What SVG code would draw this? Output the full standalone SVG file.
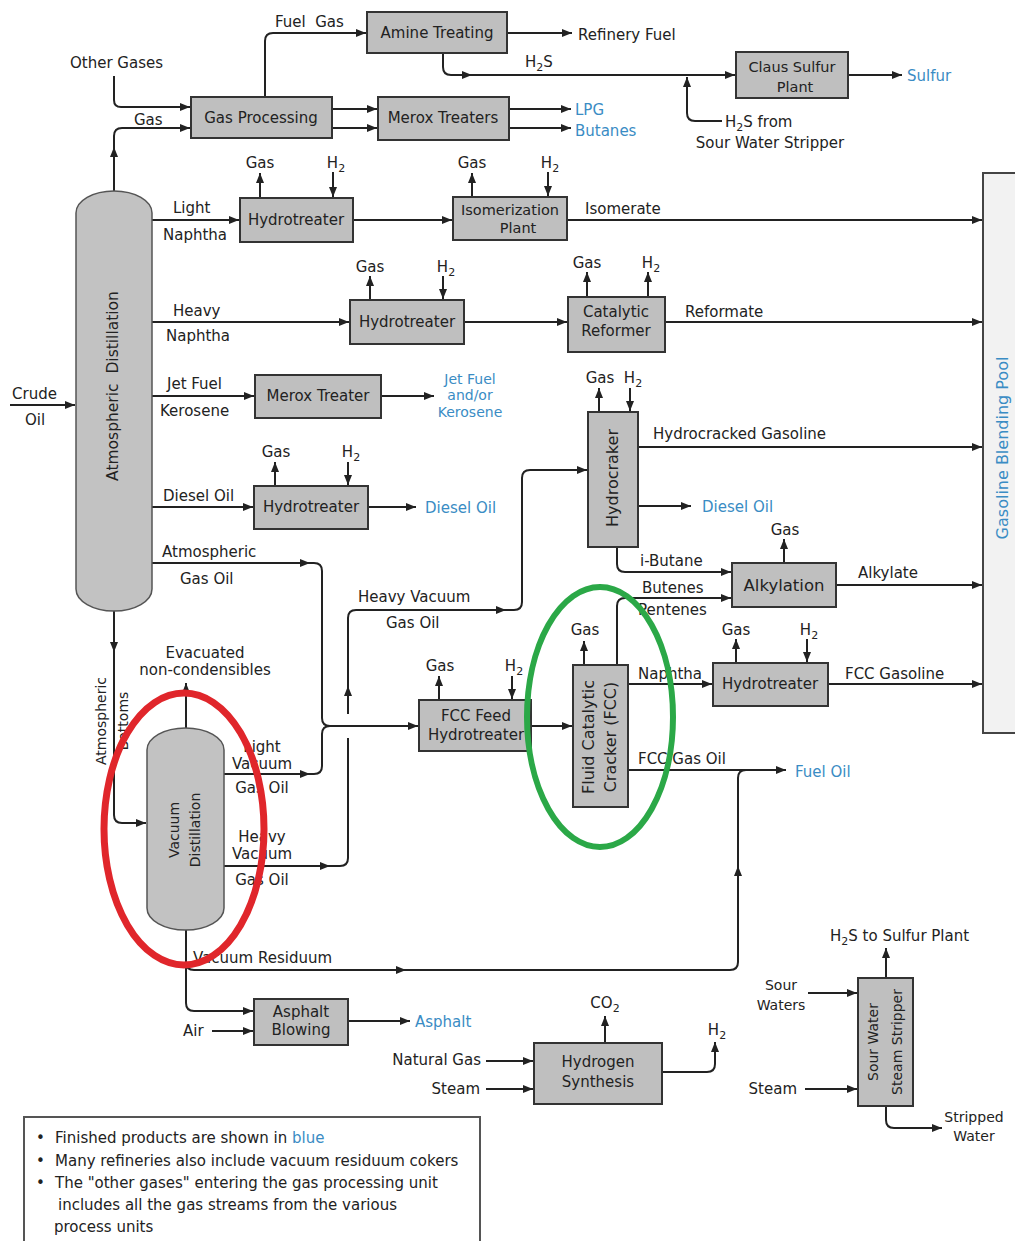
<svg xmlns="http://www.w3.org/2000/svg" width="1015" height="1241" viewBox="0 0 1015 1241">
<style>
.box{fill:#bfbfbf;stroke:#333;stroke-width:2}
.col{fill:#c2c2c2;stroke:#555;stroke-width:1.5}
.ln{fill:none;stroke:#222;stroke-width:2}
.a{marker-end:url(#ah)}
text{font-family:"DejaVu Sans",Verdana,sans-serif;font-size:15px;fill:#222}
.c{text-anchor:middle}
.e{text-anchor:end}
.b{fill:#3a8cc4}
.s{font-size:14px}
.sub{font-size:11px}
</style>
<defs>
<marker id="ah" viewBox="0 0 10 8" refX="10" refY="4" markerWidth="10" markerHeight="8" markerUnits="userSpaceOnUse" orient="auto">
<path d="M0,0 L10,4 L0,8 z" fill="#222"/>
</marker>
</defs>
<rect width="1015" height="1241" fill="#fff"/>

<g id="connectors">
<path class="ln a" d="M10,405 H75"/>
<path class="ln a" d="M114,76 V100 Q114,107 121,107 H190"/>
<path class="ln a" d="M114,191 V147"/>
<path class="ln a" d="M114,150 V136 Q114,128 122,128 H190"/>
<path class="ln a" d="M265,97 V41 Q265,33 273,33 H366"/>
<path class="ln a" d="M507,33 H572"/>
<path class="ln a" d="M443,53 V67 Q443,75 451,75 H472"/>
<path class="ln a" d="M470,75 H735"/>
<path class="ln a" d="M722,121 H695 Q687,121 687,113 V77"/>
<path class="ln a" d="M848,75 H902"/>
<path class="ln a" d="M332,109 H377"/>
<path class="ln a" d="M332,128 H377"/>
<path class="ln a" d="M509,109 H571"/>
<path class="ln a" d="M509,128 H571"/>
<path class="ln a" d="M152,220 H239"/>
<path class="ln a" d="M260,198 V173"/>
<path class="ln a" d="M333,172 V197"/>
<path class="ln a" d="M353,220 H452"/>
<path class="ln a" d="M472,197 V173"/>
<path class="ln a" d="M548,172 V196"/>
<path class="ln a" d="M567,220 H982"/>
<path class="ln a" d="M152,322 H349"/>
<path class="ln a" d="M370,300 V276"/>
<path class="ln a" d="M443,276 V299"/>
<path class="ln a" d="M464,322 H567"/>
<path class="ln a" d="M587,297 V272"/>
<path class="ln a" d="M648,297 V272"/>
<path class="ln a" d="M665,322 H982"/>
<path class="ln a" d="M152,396 H254"/>
<path class="ln a" d="M381,396 H434"/>
<path class="ln a" d="M152,507 H253"/>
<path class="ln a" d="M275,486 V462"/>
<path class="ln a" d="M348,462 V485"/>
<path class="ln a" d="M368,507 H416"/>
<path class="ln a" d="M599,412 V388"/>
<path class="ln a" d="M630,388 V411"/>
<path class="ln a" d="M638,447 H982"/>
<path class="ln a" d="M638,506 H691"/>
<path class="ln a" d="M617,547 V564 Q617,572 625,572 H731"/>
<path class="ln a" d="M617,665 V606 Q617,598 625,598 H731"/>
<path class="ln a" d="M784,563 V539"/>
<path class="ln a" d="M836,585 H982"/>
<path class="ln a" d="M152,563 H310"/>
<path class="ln a" d="M308,563 H314 Q322,563 322,571 V718 Q322,726 330,726 H418"/>
<path class="ln a" d="M224,774 H310"/>
<path class="ln" d="M308,774 H314 Q322,774 322,766 V734 Q322,726 330,726"/>
<path class="ln a" d="M224,866 H330"/>
<path class="ln" d="M328,866 H340 Q348,866 348,858 V738"/>
<path class="ln a" d="M348,714 V686"/>
<path class="ln a" d="M348,690 V618 Q348,610 356,610 H506"/>
<path class="ln a" d="M504,610 H514 Q522,610 522,602 V478 Q522,470 530,470 H587"/>
<path class="ln a" d="M439,700 V676"/>
<path class="ln a" d="M512,676 V699"/>
<path class="ln a" d="M531,726 H572"/>
<path class="ln a" d="M584,665 V641"/>
<path class="ln a" d="M628,684 H712"/>
<path class="ln a" d="M736,663 V639"/>
<path class="ln a" d="M807,639 V662"/>
<path class="ln a" d="M828,684 H982"/>
<path class="ln a" d="M628,770 H786"/>
<path class="ln a" d="M114,611 V652"/>
<path class="ln a" d="M114,648 V815 Q114,823 122,823 H146"/>
<path class="ln a" d="M186,728 V683"/>
<path class="ln a" d="M186,930 V1003 Q186,1011 194,1011 H253"/>
<path class="ln a" d="M186,962 Q186,970 194,970 H406"/>
<path class="ln a" d="M403,970 H730 Q738,970 738,962 V866"/>
<path class="ln" d="M738,870 V778 Q738,770 746,770"/>
<path class="ln a" d="M212,1031 H253"/>
<path class="ln a" d="M348,1021 H410"/>
<path class="ln a" d="M486,1061 H533"/>
<path class="ln a" d="M486,1089 H533"/>
<path class="ln a" d="M605,1043 V1016"/>
<path class="ln a" d="M662,1072 H707 Q715,1072 715,1064 V1042"/>
<path class="ln a" d="M808,993 H857"/>
<path class="ln a" d="M805,1089 H857"/>
<path class="ln a" d="M886,978 V948"/>
<path class="ln a" d="M886,1106 V1120 Q886,1128 894,1128 H942"/>
</g>

<g id="atmospheric-distillation">
<path class="col" d="M76,213 A38,22 0 0 1 152,213 V589 A38,22 0 0 1 76,589 Z"/>
<text class="c" transform="translate(113,386) rotate(-90)" y="5" style="font-size:15.5px">Atmospheric&#160; Distillation</text>
</g>
<g id="vacuum-distillation">
<path class="col" d="M147,750 A38.5,22 0 0 1 224,750 V908 A38.5,22 0 0 1 147,908 Z"/>
<text class="c s" transform="translate(174,830) rotate(-90)" y="5">Vacuum</text>
<text class="c s" transform="translate(195,830) rotate(-90)" y="5">Distillation</text>
</g>
<g id="gas-processing"><rect class="box" x="191" y="97" width="141" height="41"/><text class="c" x="261" y="123">Gas Processing</text></g>
<g id="amine-treating"><rect class="box" x="367" y="12" width="140" height="41"/><text class="c" x="437" y="38">Amine Treating</text></g>
<g id="merox-treaters"><rect class="box" x="378" y="97" width="131" height="43"/><text class="c" x="443" y="123">Merox Treaters</text></g>
<g id="claus-sulfur-plant"><rect class="box" x="736" y="52" width="112" height="46"/><text class="c" x="792" y="72" style="font-size:14.5px">Claus Sulfur</text><text class="c" x="795" y="92" style="font-size:14.5px">Plant</text></g>
<g id="hydrotreater-1"><rect class="box" x="240" y="198" width="113" height="44"/><text class="c" x="296" y="225">Hydrotreater</text></g>
<g id="isomerization-plant"><rect class="box" x="453" y="197" width="114" height="43"/><text class="c" x="510" y="215" style="font-size:14.5px">Isomerization</text><text class="c" x="518" y="233" style="font-size:14.5px">Plant</text></g>
<g id="hydrotreater-2"><rect class="box" x="350" y="300" width="114" height="44"/><text class="c" x="407" y="327">Hydrotreater</text></g>
<g id="catalytic-reformer"><rect class="box" x="568" y="297" width="97" height="55"/><text class="c" x="616" y="317">Catalytic</text><text class="c" x="616" y="336">Reformer</text></g>
<g id="merox-treater"><rect class="box" x="255" y="375" width="126" height="43"/><text class="c" x="318" y="401">Merox Treater</text></g>
<g id="hydrotreater-3"><rect class="box" x="254" y="486" width="114" height="43"/><text class="c" x="311" y="512">Hydrotreater</text></g>
<g id="hydrocracker"><rect class="box" x="588" y="412" width="50" height="135"/><text class="c" transform="translate(613,478) rotate(-90)" y="5" style="font-size:16px">Hydrocraker</text></g>
<g id="alkylation"><rect class="box" x="732" y="563" width="104" height="44"/><text class="c" x="784" y="591" style="font-size:16.5px">Alkylation</text></g>
<g id="fcc-feed-hydrotreater"><rect class="box" x="419" y="700" width="112" height="51"/><text class="c" x="476" y="721">FCC Feed</text><text class="c" x="476" y="740">Hydrotreater</text></g>
<g id="fcc"><rect class="box" x="573" y="665" width="55" height="142"/><text class="c" transform="translate(589,737) rotate(-90)" y="5" style="font-size:16px">Fluid Catalytic</text><text class="c" transform="translate(611,737) rotate(-90)" y="5" style="font-size:16px">Cracker (FCC)</text></g>
<g id="hydrotreater-4"><rect class="box" x="713" y="663" width="115" height="43"/><text class="c" x="770" y="689">Hydrotreater</text></g>
<g id="asphalt-blowing"><rect class="box" x="254" y="999" width="94" height="46"/><text class="c" x="301" y="1017">Asphalt</text><text class="c" x="301" y="1035">Blowing</text></g>
<g id="hydrogen-synthesis"><rect class="box" x="534" y="1043" width="128" height="61"/><text class="c" x="598" y="1067">Hydrogen</text><text class="c" x="598" y="1087">Synthesis</text></g>
<g id="sour-water-stripper"><rect class="box" x="858" y="978" width="55" height="128"/><text class="c s" transform="translate(873,1042) rotate(-90)" y="5">Sour Water</text><text class="c s" transform="translate(897,1042) rotate(-90)" y="5">Steam Stripper</text></g>
<g id="gasoline-blending-pool"><rect x="983" y="173" width="40" height="560" fill="#f2f2f2" stroke="#444" stroke-width="2"/><text class="c b" transform="translate(1003,448) rotate(-90)" y="5" style="font-size:16px">Gasoline Blending Pool</text></g>

<g id="labels">
<text x="275" y="27">Fuel&#160; Gas</text>
<text x="578" y="40">Refinery Fuel</text>
<text x="70" y="68">Other Gases</text>
<text x="134" y="125">Gas</text>
<text x="525" y="67">H<tspan class="sub" dy="4">2</tspan><tspan dy="-4">S</tspan></text>
<text class="b" x="575" y="115">LPG</text>
<text class="b" x="575" y="136">Butanes</text>
<text class="b" x="907" y="81">Sulfur</text>
<text x="725" y="127">H<tspan class="sub" dy="4">2</tspan><tspan dy="-4">S from</tspan></text>
<text class="c" x="770" y="148">Sour Water Stripper</text>
<text class="c" x="260" y="168">Gas</text>
<text class="c" x="336" y="168">H<tspan class="sub" dy="4">2</tspan></text>
<text class="c" x="472" y="168">Gas</text>
<text class="c" x="550" y="168">H<tspan class="sub" dy="4">2</tspan></text>
<text x="173" y="213">Light</text>
<text x="163" y="240">Naphtha</text>
<text x="585" y="214">Isomerate</text>
<text class="c" x="370" y="272">Gas</text>
<text class="c" x="446" y="272">H<tspan class="sub" dy="4">2</tspan></text>
<text class="c" x="587" y="268">Gas</text>
<text class="c" x="651" y="268">H<tspan class="sub" dy="4">2</tspan></text>
<text x="173" y="316">Heavy</text>
<text x="166" y="341">Naphtha</text>
<text x="685" y="317">Reformate</text>
<text x="12" y="399">Crude</text>
<text x="25" y="425">Oil</text>
<text x="167" y="389">Jet Fuel</text>
<text x="160" y="416">Kerosene</text>
<text class="c b s" x="470" y="384">Jet Fuel</text>
<text class="c b s" x="470" y="400">and/or</text>
<text class="c b s" x="470" y="417">Kerosene</text>
<text class="c" x="600" y="383">Gas</text>
<text class="c" x="633" y="383">H<tspan class="sub" dy="4">2</tspan></text>
<text x="653" y="439">Hydrocracked Gasoline</text>
<text class="c" x="276" y="457">Gas</text>
<text class="c" x="351" y="457">H<tspan class="sub" dy="4">2</tspan></text>
<text x="163" y="501">Diesel Oil</text>
<text class="b" x="425" y="513">Diesel Oil</text>
<text class="b" x="702" y="512">Diesel Oil</text>
<text class="c" x="785" y="535">Gas</text>
<text x="162" y="557">Atmospheric</text>
<text x="180" y="584">Gas Oil</text>
<text x="640" y="566">i-Butane</text>
<text x="858" y="578">Alkylate</text>
<text x="642" y="593">Butenes</text>
<text x="638" y="615">Pentenes</text>
<text x="358" y="602">Heavy Vacuum</text>
<text x="386" y="628">Gas Oil</text>
<text class="c" x="205" y="658">Evacuated</text>
<text class="c" x="205" y="675">non-condensibles</text>
<text class="c" x="440" y="671">Gas</text>
<text class="c" x="514" y="671">H<tspan class="sub" dy="4">2</tspan></text>
<text class="c" x="585" y="635">Gas</text>
<text class="c" x="736" y="635">Gas</text>
<text class="c" x="809" y="635">H<tspan class="sub" dy="4">2</tspan></text>
<text x="638" y="679">Naphtha</text>
<text x="845" y="679">FCC Gasoline</text>
<text x="638" y="764">FCC Gas Oil</text>
<text class="b" x="795" y="777">Fuel Oil</text>
<text class="c" transform="translate(101,721) rotate(-90)" y="5" style="font-size:14px">Atmospheric</text>
<text class="c" transform="translate(123,721) rotate(-90)" y="5" style="font-size:14px">Bottoms</text>
<text class="c" x="262" y="752">Light</text>
<text class="c" x="262" y="769">Vacuum</text>
<text class="c" x="262" y="793">Gas Oil</text>
<text class="c" x="262" y="842">Heavy</text>
<text class="c" x="262" y="859">Vacuum</text>
<text class="c" x="262" y="885">Gas Oil</text>
<text x="193" y="963">Vacuum Residuum</text>
<text x="183" y="1036">Air</text>
<text class="b" x="415" y="1027">Asphalt</text>
<text class="e" x="481" y="1065">Natural Gas</text>
<text class="e" x="480" y="1094">Steam</text>
<text class="c" x="605" y="1008">CO<tspan class="sub" dy="4">2</tspan></text>
<text class="c" x="717" y="1035">H<tspan class="sub" dy="4">2</tspan></text>
<text x="830" y="941">H<tspan class="sub" dy="4">2</tspan><tspan dy="-4">S to Sulfur Plant</tspan></text>
<text class="c s" x="781" y="990">Sour</text>
<text class="c s" x="781" y="1010">Waters</text>
<text class="e" x="797" y="1094">Steam</text>
<text class="c s" x="974" y="1122">Stripped</text>
<text class="c s" x="974" y="1141">Water</text>
</g>

<g id="legend">
<rect x="24" y="1117" width="456" height="140" fill="#fff" stroke="#555" stroke-width="2"/>
<text x="36" y="1143">•</text><text x="55" y="1143">Finished products are shown in <tspan class="b">blue</tspan></text>
<text x="36" y="1166">•</text><text x="55" y="1166">Many refineries also include vacuum residuum cokers</text>
<text x="36" y="1188">•</text><text x="55" y="1188">The "other gases" entering the gas processing unit</text>
<text x="58" y="1210">includes all the gas streams from the various</text>
<text x="54" y="1232">process units</text>
</g>

<g id="highlights">
<ellipse cx="184" cy="829" rx="80" ry="136" fill="none" stroke="#e0262b" stroke-width="7"/>
<ellipse cx="600" cy="717" rx="73" ry="130" fill="none" stroke="#2ba847" stroke-width="6"/>
</g>
</svg>
